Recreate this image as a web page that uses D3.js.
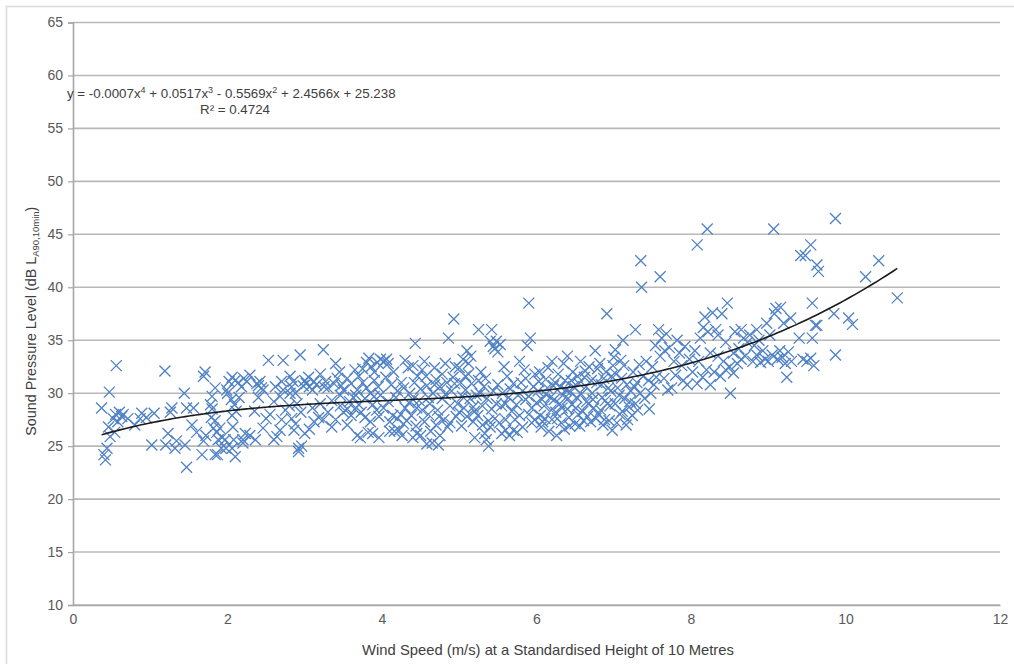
<!DOCTYPE html>
<html>
<head>
<meta charset="utf-8">
<script src="https://cdn.jsdelivr.net/npm/d3@7"></script>
<style>
  html, body { margin: 0; padding: 0; background: #fff; }
  svg { display: block; font-family: "Liberation Sans", Arial, sans-serif; }
</style>
</head>
<body>
<svg id="chart" width="1014" height="664"></svg>
<script>
// Axis ticks
const xTicks = [0, 2, 4, 6, 8, 10, 12];
const yTicks = [10, 15, 20, 25, 30, 35, 40, 45, 50, 55, 60, 65];

// Polynomial trendline coefficients, constant term first
const trendCoefficients = [25.238, 2.4566, -0.5569, 0.0517, -0.0007];
const trendRange = [0.37, 10.67];

// Measurements: [wind speed m/s, sound pressure level dB], grouped by wind speed
const calmPoints = [
  [0.37,28.6],[0.40,24.2],[0.42,23.7],[0.44,24.8],[0.47,30.1],[0.46,26.8],[0.48,25.9],[0.56,32.6],[0.52,27.6],[0.55,28.0],
  [0.58,27.3],[0.60,28.2],[0.63,27.8],[0.65,28.0],[0.54,26.3],[0.71,27.6],[0.80,27.0],[0.87,27.6],[0.89,28.1],[0.95,27.7],
  [1.02,25.1],[1.05,28.1],[1.19,32.1],[1.20,25.1],[1.23,26.2],[1.26,28.2],[1.28,28.6],[1.32,24.8],[1.34,25.5],[1.45,25.1],
  [1.47,23.0],[1.44,30.0],[1.47,28.6],[1.56,28.6],[1.54,27.0],[1.60,26.3],[1.67,24.2],[1.69,25.5],[1.71,32.0],[1.69,31.6],
  [1.72,26.0],[1.80,29.7],[1.84,30.5],[1.78,28.9],[1.80,28.5],[1.79,27.7],[1.84,27.4],[1.82,26.7],[1.86,26.3],[1.84,24.2],
  [1.87,24.2],[1.88,25.6],[1.90,26.7],[1.93,25.8],[1.92,24.8],[1.97,25.6],[1.98,24.8],[1.99,30.3],[2.00,30.0]
];

const lightPoints = [
  [2.02,31.1],[2.06,31.5],[2.10,31.2],[2.14,31.0],[2.18,30.6],[2.21,31.4],[2.05,29.4],[2.09,28.9],[2.11,28.3],[2.06,27.9],
  [2.07,26.8],[2.08,25.6],[2.06,24.8],[2.10,24.0],[2.20,25.6],[2.25,31.1],[2.29,31.7],[2.38,30.9],[2.42,31.1],[2.44,30.5],
  [2.46,30.3],[2.40,30.7],[2.53,33.1],[2.72,33.1],[2.94,33.6],[2.70,31.1],[2.72,30.3],[2.68,29.7],[2.81,31.6],[2.85,31.1],
  [2.83,30.6],[2.88,30.0],[2.81,30.0],[2.46,26.7],[2.29,26.0],[2.23,26.2],[2.36,25.6],[2.20,25.3],[2.75,28.4],[2.70,27.5],
  [2.68,26.5],[2.64,25.9],[2.60,25.6],[2.83,27.6],[2.88,27.1],[2.86,26.5],[2.92,24.8],[2.92,24.5],[2.96,25.0],[2.55,28.0],
  [2.50,27.6],[2.35,28.3],[2.60,29.2],[2.90,29.0],[2.98,30.7],[2.40,29.6],[2.95,28.2],[2.80,28.8],[2.62,30.6],[2.15,29.6],
  [3.00,31.2],[3.06,30.6],[3.10,30.3],[3.05,31.5],[3.12,31.1],[3.15,30.8],[3.02,30.9],[3.24,34.1],[3.27,31.1],[3.25,30.6],
  [3.00,26.2],[3.06,26.6],[3.12,27.3],[3.18,27.7],[3.24,27.5],[3.10,28.6],[3.20,29.0],[3.35,29.3],[3.40,32.8],[3.45,32.0],
  [3.42,31.4],[3.38,30.9],[3.47,30.7],[3.50,30.3],[3.46,29.8],[3.55,31.4],[3.60,30.9],[3.65,32.2],[3.68,30.3],[3.66,29.8],
  [3.63,29.6],[3.46,28.8],[3.50,28.2],[3.55,28.5],[3.60,27.9],[3.65,28.5],[3.70,28.9],[3.73,28.2],[3.78,27.7],[3.68,26.0],
  [3.72,25.8],[3.82,26.3],[3.88,26.2],[3.96,25.8],[3.75,32.3],[3.80,32.9],[3.83,33.3],[3.86,32.5],[3.90,32.0],[3.94,32.9],
  [3.98,33.2],[4.02,33.0],[4.06,33.2],[4.08,32.8],[3.75,31.0],[3.80,30.5],[3.85,30.0],[3.90,31.2],[3.95,30.6],[3.98,29.8],
  [3.78,29.5],[3.88,28.9],[3.93,28.4],[3.35,26.8],[3.40,27.5],[3.30,28.2],[3.55,27.0],[3.85,27.3],[3.96,27.8],[3.90,29.7],
  [3.70,31.6],[3.58,29.2],[3.30,30.5],[3.20,31.8]
];

const moderatePoints = [
  [4.10,26.4],[4.16,26.4],[4.22,26.5],[4.26,26.0],[4.28,27.1],[4.20,27.6],[4.14,27.9],[4.24,28.0],[4.32,27.4],[4.38,27.9],
  [4.30,33.1],[4.34,32.4],[4.40,32.6],[4.43,34.7],[4.25,31.0],[4.28,30.5],[4.36,30.0],[4.40,29.4],[4.48,29.3],[4.50,30.4],
  [4.42,31.0],[4.45,28.6],[4.40,25.8],[4.45,26.2],[4.50,26.0],[4.44,26.9],[4.58,25.2],[4.65,25.3],[4.73,25.1],[4.55,27.3],
  [4.60,28.0],[4.62,29.0],[4.66,30.0],[4.70,31.3],[4.57,31.6],[4.52,32.2],[4.75,30.6],[4.78,29.5],[4.72,28.4],[4.80,27.5],
  [4.85,26.8],[4.88,28.8],[4.90,30.2],[4.92,31.5],[4.86,35.2],[4.93,37.0],[4.95,32.5],[4.98,29.0],[4.96,27.8],[4.82,32.8],
  [4.68,32.4],[4.63,26.4],[4.70,27.0],[4.05,31.5],[4.12,30.8],[4.18,29.6],[4.02,28.6],[4.08,29.2],[4.15,32.0],[4.58,30.7],
  [4.84,31.0],[4.75,26.0],[4.55,33.0],[4.30,28.6],[4.35,29.1],[4.46,31.6],[4.20,30.2],[4.10,27.3],
  [4.52,28.4],[4.60,29.6],[4.68,30.8],[4.74,27.8],[4.78,31.8],[4.82,29.9],[4.88,27.2],[4.94,30.9],
  [5.00,32.4],[5.05,33.2],[5.10,34.0],[5.12,32.8],[5.15,33.5],[5.02,31.0],[5.08,30.3],[5.14,29.5],[5.06,28.6],[5.10,27.8],
  [5.03,26.9],[5.18,27.3],[5.20,28.3],[5.22,29.8],[5.25,31.2],[5.25,36.0],[5.42,36.0],[5.40,34.9],[5.44,34.4],[5.48,34.9],
  [5.50,33.9],[5.46,34.2],[5.53,34.6],[5.30,27.0],[5.33,26.2],[5.35,25.6],[5.38,25.0],[5.40,26.8],[5.28,32.0],[5.32,30.6],
  [5.36,29.5],[5.42,28.5],[5.46,27.6],[5.50,30.8],[5.55,26.2],[5.60,26.5],[5.65,26.0],[5.70,26.5],[5.75,26.3],[5.58,32.5],
  [5.62,31.6],[5.66,30.4],[5.60,29.0],[5.68,28.3],[5.72,27.5],[5.76,29.8],[5.80,31.0],[5.78,33.0],[5.84,32.2],[5.88,34.5],
  [5.92,35.2],[5.90,38.5],[5.86,29.4],[5.90,28.0],[5.94,27.2],[5.96,30.6],[5.98,31.8],[5.82,26.8],[5.55,28.8],[5.20,25.8],
  [5.12,31.8],[5.00,28.2],[5.04,29.7],[5.08,31.6],[5.16,30.9],[5.18,28.7],[5.24,27.9],[5.27,30.0],[5.30,28.8],[5.34,31.4],
  [5.38,27.4],[5.44,30.2],[5.48,29.0],[5.52,27.2],[5.56,30.0],[5.60,27.5],[5.64,29.6],[5.70,30.9],[5.74,28.9],[5.78,27.9],
  [5.82,30.2],[5.86,31.4],[5.90,29.7],[5.94,28.6],[5.98,27.5]
];

const freshPoints = [
  [6.02,30.2],[6.05,27.9],[6.08,27.3],[6.10,28.8],[6.12,31.3],[6.15,32.4],[6.18,29.6],[6.20,27.5],[6.22,30.7],[6.25,28.2],
  [6.28,31.8],[6.30,29.0],[6.32,27.2],[6.35,32.8],[6.38,30.3],[6.40,28.5],[6.42,27.7],[6.45,31.2],[6.47,32.0],[6.50,27.1],
  [6.52,29.6],[6.55,30.9],[6.57,33.0],[6.60,28.3],[6.62,31.5],[6.65,29.2],[6.68,32.5],[6.70,27.3],[6.72,30.0],[6.74,28.6],
  [6.76,34.0],[6.78,31.0],[6.80,28.0],[6.82,32.8],[6.85,29.6],[6.88,27.5],[6.90,32.0],[6.91,37.5],[6.93,30.5],[6.95,28.8],
  [6.97,31.6],[6.98,26.5],[6.06,26.8],[6.16,26.4],[6.26,26.0],[6.36,26.6],[6.46,28.9],[6.56,26.9],[6.66,27.8],[6.86,27.0],
  [6.12,29.9],[6.24,31.0],[6.34,29.8],[6.44,30.1],[6.54,28.0],[6.64,30.6],[6.84,30.8],[6.92,29.0],[6.04,32.0],[6.40,33.5],
  [6.20,33.0],[6.00,29.1],[6.03,31.1],[6.07,29.4],[6.11,27.6],[6.14,30.5],[6.19,28.4],[6.23,29.4],[6.27,27.6],[6.31,30.6],
  [6.33,28.6],[6.37,31.2],[6.41,29.5],[6.43,26.9],[6.48,30.6],[6.51,28.6],[6.53,31.6],[6.58,29.9],[6.61,27.4],[6.63,32.1],
  [6.67,29.0],[6.71,31.2],[6.73,29.4],[6.77,27.6],[6.79,32.3],[6.83,28.4],[6.87,31.4],[6.89,29.3],[6.94,27.4],[6.96,30.2],
  [6.99,32.6],
  [7.00,33.4],[7.02,34.1],[7.09,33.1],[7.12,35.0],[7.28,36.0],[7.35,42.5],[7.36,40.0],[7.60,41.0],[7.02,29.0],[7.05,30.5],
  [7.08,28.0],[7.10,31.4],[7.14,29.5],[7.18,27.5],[7.20,28.7],[7.22,30.2],[7.25,32.0],[7.28,29.0],[7.30,31.0],[7.04,27.2],
  [7.16,27.0],[7.34,30.0],[7.38,31.6],[7.42,33.0],[7.45,31.2],[7.48,30.0],[7.50,32.5],[7.54,34.5],[7.58,36.0],[7.62,35.2],
  [7.66,34.0],[7.55,31.5],[7.60,33.5],[7.65,31.4],[7.68,35.6],[7.72,34.3],[7.75,30.5],[7.78,33.0],[7.80,31.7],[7.82,35.0],
  [7.85,33.8],[7.88,32.6],[7.90,31.2],[7.92,34.4],[7.95,30.8],[7.98,33.2],[7.70,30.3],[7.40,29.5],[7.52,30.8],[7.46,28.5],
  [7.03,31.8],[7.07,29.8],[7.11,28.3],[7.13,32.6],[7.17,30.8],[7.21,29.2],[7.24,27.9],[7.27,30.6],[7.31,28.4],[7.33,32.7]
];

const strongPoints = [
  [8.02,32.0],[8.05,34.0],[8.08,44.0],[8.08,30.9],[8.10,33.0],[8.12,35.2],[8.16,36.2],[8.18,37.2],[8.20,32.2],[8.21,45.5],
  [8.22,35.8],[8.25,33.8],[8.28,37.6],[8.30,32.0],[8.32,36.0],[8.35,35.5],[8.38,31.6],[8.40,37.5],[8.42,33.0],[8.45,34.8],
  [8.47,38.5],[8.50,32.5],[8.51,30.0],[8.55,33.8],[8.57,35.8],[8.60,32.8],[8.62,34.2],[8.65,36.0],[8.68,35.2],[8.70,33.5],
  [8.73,34.8],[8.76,35.5],[8.80,33.0],[8.82,34.5],[8.85,33.6],[8.88,35.0],[8.90,32.9],[8.93,34.0],[8.96,33.2],[8.98,36.6],
  [8.55,31.9],[8.35,33.5],[8.15,31.5],[8.45,32.2],[8.65,33.2],[8.85,36.0],[8.25,30.8],
  [9.00,33.0],[9.02,35.5],[9.05,33.6],[9.07,45.5],[9.08,37.5],[9.10,38.0],[9.12,33.2],[9.15,34.0],[9.16,38.1],[9.18,33.4],
  [9.20,36.6],[9.22,32.8],[9.24,31.5],[9.26,33.9],[9.29,37.1],[9.30,33.0],[9.40,35.2],[9.42,43.0],[9.45,33.2],[9.48,43.0],
  [9.50,33.0],[9.55,44.0],[9.55,33.3],[9.57,38.5],[9.57,35.2],[9.59,32.6],[9.61,36.4],[9.63,36.4],[9.63,42.1],[9.65,41.5],
  [9.85,37.5],[9.87,46.5],[9.87,33.6],[10.04,37.1],[10.09,36.5],[10.26,41.0],[10.43,42.5],[10.67,39.0]
];

const points = [].concat(calmPoints, lightPoints, moderatePoints, freshPoints, strongPoints);

const svg = d3.select("#chart");
const width = 1014, height = 664;
const margin = { left: 73, right: 14, top: 22.5, bottom: 59 };

const x = d3.scaleLinear().domain([0, 12]).range([margin.left, width - margin.right]);
const y = d3.scaleLinear().domain([10, 65]).range([height - margin.bottom, margin.top]);

// Outer chart frame
svg.append("path")
  .attr("d", `M6.5,${height} V6.5 H${width}`)
  .attr("fill", "none")
  .attr("stroke", "#d9d9d9")
  .attr("stroke-width", 1.5);

// Horizontal gridlines
svg.append("g")
  .selectAll("line")
  .data(yTicks)
  .join("line")
  .attr("x1", x(0)).attr("x2", x(12))
  .attr("y1", d => y(d)).attr("y2", d => y(d))
  .attr("stroke", "#b8b8b8")
  .attr("stroke-width", 1.6);

// Y axis
const yAxis = svg.append("g")
  .attr("transform", `translate(${x(0)},0)`)
  .call(d3.axisLeft(y).tickValues(yTicks).tickSize(5).tickPadding(5).tickFormat(d3.format("d")));
yAxis.select(".domain").attr("stroke", "#a6a6a6").attr("stroke-width", 1.6);
yAxis.selectAll(".tick line").attr("stroke", "#a6a6a6").attr("stroke-width", 1.2);
yAxis.selectAll("text").attr("fill", "#595959").attr("font-size", 14)
  .attr("font-family", "'Liberation Sans', Arial, sans-serif");

// X axis
const xAxis = svg.append("g")
  .attr("transform", `translate(0,${y(10)})`)
  .call(d3.axisBottom(x).tickValues(xTicks).tickSize(0).tickPadding(9).tickFormat(d3.format("d")));
xAxis.select(".domain").attr("stroke", "#a6a6a6").attr("stroke-width", 1.6);
xAxis.selectAll("text").attr("fill", "#595959").attr("font-size", 14)
  .attr("font-family", "'Liberation Sans', Arial, sans-serif");

// Scatter markers drawn as crosses
const s = 5.5;
svg.append("g")
  .selectAll("path")
  .data(points)
  .join("path")
  .attr("d", d => {
    const cx = x(d[0]), cy = y(d[1]);
    return `M${cx - s},${cy - s}L${cx + s},${cy + s}M${cx - s},${cy + s}L${cx + s},${cy - s}`;
  })
  .attr("stroke", "#4f81c6")
  .attr("stroke-width", 1.3)
  .attr("fill", "none");

// Polynomial trendline
const poly = v => trendCoefficients.reduce((acc, c, i) => acc + c * Math.pow(v, i), 0);
const trendXs = d3.range(trendRange[0], trendRange[1] + 1e-9, 0.05);
svg.append("path")
  .datum(trendXs)
  .attr("d", d3.line().x(v => x(v)).y(v => y(poly(v))).curve(d3.curveMonotoneX))
  .attr("fill", "none")
  .attr("stroke", "#1a1a1a")
  .attr("stroke-width", 1.6);

// Trendline equation
const eq = svg.append("text")
  .attr("x", 67).attr("y", 98)
  .attr("font-size", 13.3).attr("fill", "#404040");
eq.append("tspan").text("y = -0.0007x");
eq.append("tspan").attr("dy", -5).attr("font-size", 9).text("4");
eq.append("tspan").attr("dy", 5).text(" + 0.0517x");
eq.append("tspan").attr("dy", -5).attr("font-size", 9).text("3");
eq.append("tspan").attr("dy", 5).text(" - 0.5569x");
eq.append("tspan").attr("dy", -5).attr("font-size", 9).text("2");
eq.append("tspan").attr("dy", 5).text(" + 2.4566x + 25.238");

svg.append("text")
  .attr("x", 235).attr("y", 114)
  .attr("text-anchor", "middle")
  .attr("font-size", 13.3).attr("fill", "#404040")
  .text("R² = 0.4724");

// Axis titles
svg.append("text")
  .attr("x", 548).attr("y", 655)
  .attr("text-anchor", "middle")
  .attr("font-size", 14.8).attr("fill", "#404040")
  .text("Wind Speed (m/s) at a Standardised Height of 10 Metres");

const yt = svg.append("text")
  .attr("transform", `translate(36,${y(36.8)}) rotate(-90)`)
  .attr("text-anchor", "middle")
  .attr("font-size", 14.3).attr("fill", "#404040");
yt.append("tspan").text("Sound Pressure Level (dB L");
yt.append("tspan").attr("dy", 3).attr("font-size", 9.5).text("A90,10min");
yt.append("tspan").attr("dy", -3).text(")");
</script>
</body>
</html>
